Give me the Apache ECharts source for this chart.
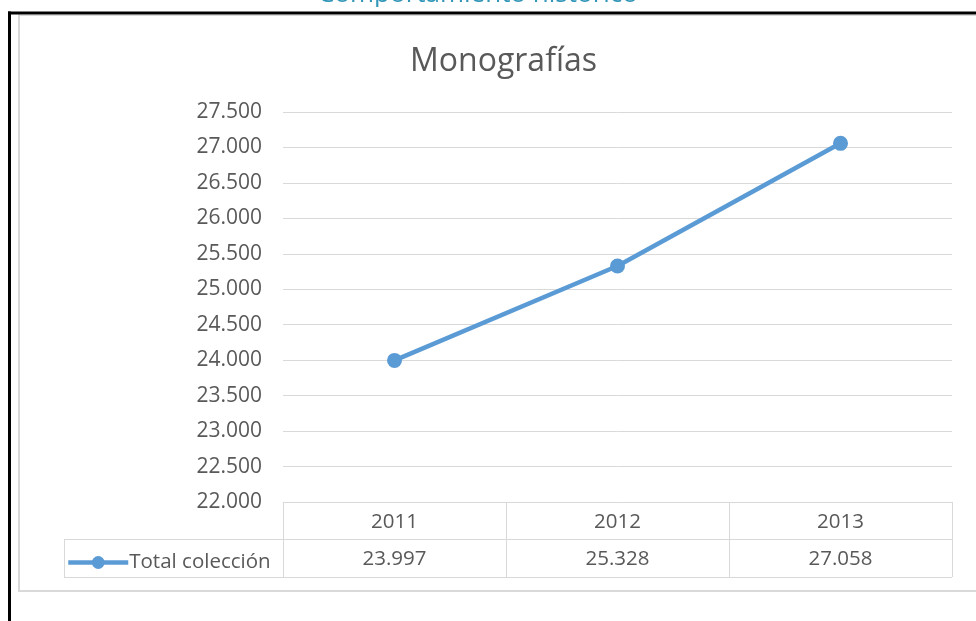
<!DOCTYPE html>
<html>
<head>
<meta charset="utf-8">
<script src="https://cdn.jsdelivr.net/npm/echarts@6/dist/echarts.min.js"></script>
<style>
html,body{margin:0;padding:0;background:#fff;}
#c{width:976px;height:621px;}
</style>
</head>
<body>
<div id="c"></div>
<script>
var pageHeading = 'Comportamiento histórico';
var chartTitle = 'Monografías';
var seriesName = 'Total colección';
var years = ['2011', '2012', '2013'];
var totals = [23997, 25328, 27058];
var yMin = 22000, yMax = 27500, yStep = 500;

function fmt(v) {
  var s = String(Math.round(v));
  return s.replace(/\B(?=(\d{3})+(?!\d))/g, '.');
}

var FONT = '"Open Sans", sans-serif';
var GRAY = '#595959';
var LINE = '#d9d9d9';
var BLUE = '#5b9bd5';

var chart = echarts.init(document.getElementById('c'), null, {renderer: 'canvas'});
chart.setOption({
  backgroundColor: '#fff',
  animation: false,
  title: {
    text: chartTitle,
    left: 405,
    top: 41,
    textStyle: {fontFamily: FONT, fontSize: 32, fontWeight: 'normal', color: GRAY}
  },
  legend: {
    left: 61,
    top: 547,
    itemWidth: 60,
    itemHeight: 16,
    itemGap: 0,
    lineStyle: {width: 4.5},
    textStyle: {fontFamily: FONT, fontSize: 20.5, color: GRAY, padding: [0, 0, 0, -4]},
    data: [seriesName]
  },
  grid: {left: 283, right: 24, top: 112, bottom: 119, containLabel: false},
  xAxis: [{
    type: 'category',
    data: years,
    boundaryGap: true,
    axisLine: {show: true, lineStyle: {color: LINE, width: 1}},
    axisTick: {show: true, length: 75, inside: false, alignWithLabel: false, lineStyle: {color: LINE, width: 1}},
    axisLabel: {fontFamily: FONT, fontSize: 20.5, color: GRAY, margin: 20, verticalAlign: 'middle'},
    splitLine: {show: false}
  }, {
    type: 'category',
    data: totals.map(fmt),
    position: 'bottom',
    offset: 0,
    boundaryGap: true,
    axisLine: {show: false},
    axisTick: {show: false},
    axisLabel: {fontFamily: FONT, fontSize: 20.5, color: GRAY, margin: 57, verticalAlign: 'middle'},
    splitLine: {show: false}
  }],
  yAxis: {
    type: 'value',
    min: yMin,
    max: yMax,
    interval: yStep,
    axisLine: {show: false},
    axisTick: {show: false},
    axisLabel: {fontFamily: FONT, fontSize: 21, color: GRAY, margin: 21, formatter: fmt, padding: [3, 0, 0, 0]},
    splitLine: {show: true, lineStyle: {color: LINE, width: 1}}
  },
  series: [{
    name: seriesName,
    type: 'line',
    data: totals,
    symbol: 'circle',
    symbolSize: 15,
    lineStyle: {color: BLUE, width: 4.5},
    itemStyle: {color: BLUE},
    z: 5
  }],
  graphic: [
    {type: 'text', left: 318, top: -18, style: {text: pageHeading, fontFamily: FONT, fontSize: 26, fill: '#3296b8'}, z: 1},
    {type: 'line', shape: {x1: 64, y1: 539.5, x2: 952, y2: 539.5}, style: {stroke: LINE, lineWidth: 1}, z: 2},
    {type: 'line', shape: {x1: 64, y1: 577.5, x2: 952, y2: 577.5}, style: {stroke: LINE, lineWidth: 1}, z: 2},
    {type: 'line', shape: {x1: 64.5, y1: 539, x2: 64.5, y2: 578}, style: {stroke: LINE, lineWidth: 1}, z: 2},
    {type: 'line', shape: {x1: 18, y1: 591, x2: 976, y2: 591}, style: {stroke: LINE, lineWidth: 2}, z: 2},
    {type: 'line', shape: {x1: 19, y1: 14, x2: 19, y2: 592}, style: {stroke: LINE, lineWidth: 2}, z: 2},
    {type: 'line', shape: {x1: 18, y1: 15.5, x2: 976, y2: 15.5}, style: {stroke: LINE, lineWidth: 1}, z: 2},
    {type: 'rect', shape: {x: 0, y: 7, width: 976, height: 5}, style: {fill: '#fff'}, z: 2},
    {type: 'line', shape: {x1: 8, y1: 13, x2: 976, y2: 13}, style: {stroke: '#000', lineWidth: 3}, z: 3},
    {type: 'line', shape: {x1: 9.5, y1: 11.5, x2: 9.5, y2: 621}, style: {stroke: '#000', lineWidth: 3}, z: 3}
  ]
});
</script>
</body>
</html>
